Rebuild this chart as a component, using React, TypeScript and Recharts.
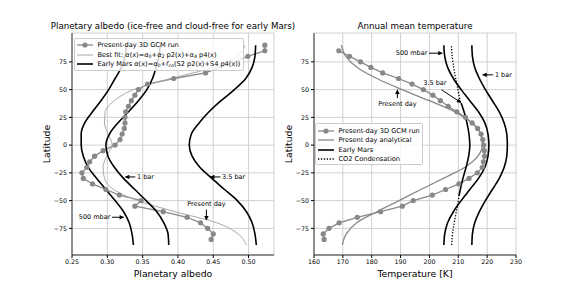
import React from 'react';
import { ComposedChart, Line, XAxis, YAxis, CartesianGrid, ReferenceLine, ReferenceDot } from 'recharts';

const FONT = '"DejaVu Sans", Verdana, sans-serif';

// ---------- ticks ----------
const latTicks = [-75, -50, -25, 0, 25, 50, 75];
const albedoTicks = [0.25, 0.3, 0.35, 0.4, 0.45, 0.5];
const tempTicks = [160, 170, 180, 190, 200, 210, 220, 230];

// ---------- left panel: planetary albedo ----------
const gcmAlbedoLat = [90, 85, 80, 65, 60, 55, 50, 45, 40, 35, 30, 25, 20, 15, 10, 5, 0, -5, -10, -15, -20, -25, -30, -35, -40, -45, -50, -55, -60, -65, -70, -75, -80, -85];
const gcmAlbedo = [0.523, 0.523, 0.499, 0.439, 0.394, 0.357, 0.344, 0.339, 0.334, 0.330, 0.326, 0.325, 0.325, 0.324, 0.321, 0.318, 0.311, 0.294, 0.282, 0.275, 0.271, 0.264, 0.266, 0.279, 0.298, 0.317, 0.348, 0.339, 0.379, 0.413, 0.432, 0.442, 0.450, 0.447];

const curveLat = [-90, -80, -70, -60, -50, -40, -30, -20, -10, 0, 10, 20, 30, 40, 50, 60, 70, 80, 90];
const bestFitAlbedo = [0.497, 0.485, 0.455, 0.396, 0.343, 0.309, 0.296, 0.294, 0.299, 0.307, 0.301, 0.296, 0.297, 0.310, 0.337, 0.390, 0.450, 0.484, 0.495];
const earlyAlbedo500mbar = [0.337, 0.335, 0.331, 0.323, 0.311, 0.298, 0.285, 0.273, 0.266, 0.263, 0.263, 0.268, 0.279, 0.291, 0.302, 0.311, 0.320, 0.325, 0.327];
const earlyAlbedo1bar = [0.387, 0.386, 0.380, 0.370, 0.355, 0.339, 0.323, 0.310, 0.301, 0.298, 0.303, 0.315, 0.330, 0.344, 0.356, 0.364, 0.369, 0.373, 0.375];
const earlyAlbedo3p5bar = [0.511, 0.509, 0.505, 0.497, 0.484, 0.466, 0.448, 0.431, 0.420, 0.416, 0.419, 0.430, 0.444, 0.461, 0.480, 0.496, 0.505, 0.509, 0.510];

// ---------- right panel: annual mean temperature ----------
const gcmTempLat = [85, 80, 75, 70, 65, 60, 55, 50, 45, 40, 35, 30, 25, 20, 15, 10, 5, 0, -5, -10, -15, -20, -25, -30, -35, -40, -45, -50, -55, -60, -65, -70, -75, -80, -85];
const gcmTemp = [168.6, 172.3, 176.1, 179.7, 183.8, 189.3, 194.0, 197.9, 201.2, 203.8, 206.5, 209.5, 212.5, 214.8, 216.7, 217.9, 218.5, 218.8, 219.0, 219.1, 218.7, 218.3, 216.6, 213.7, 210.2, 205.6, 201.0, 194.4, 190.6, 183.1, 175.0, 168.7, 165.2, 163.2, 163.5];
const analyticalTemp = [169.8, 171.2, 174.8, 181.8, 189.5, 197.0, 204.8, 212.3, 216.8, 218.3, 217.8, 214.8, 208.8, 200.0, 190.5, 181.8, 175.0, 171.0, 169.5];
const earlyTemp500mbar = [205.0, 205.3, 206.3, 208.3, 211.0, 214.0, 217.0, 219.2, 220.3, 220.6, 220.3, 219.2, 217.0, 214.0, 211.0, 208.3, 206.3, 205.3, 205.0];
const earlyTemp1bar = [214.7, 214.9, 215.7, 217.3, 219.4, 221.8, 224.2, 225.9, 226.8, 227.0, 226.8, 225.9, 224.2, 221.8, 219.4, 217.3, 215.7, 214.9, 214.7];
const early3p5Lat = [-46, -40, -30, -20, -10, 0, 10, 20, 30, 38];
const earlyTemp3p5bar = [210.2, 210.7, 211.6, 212.7, 213.6, 214.0, 213.7, 213.0, 212.0, 211.0];
const co2SouthLat = [-90, -80, -70, -60, -50, -47];
const co2SouthTemp = [207.7, 208.0, 208.6, 209.3, 210.0, 210.2];
const co2NorthLat = [39, 50, 60, 70, 80, 90];
const co2NorthTemp = [210.7, 209.9, 209.1, 208.4, 207.9, 207.6];

// ---------- annotations (data coordinates) ----------
const albedoNotes = [
  { text: '1 bar', x: 0.342, lat: -28.7, anchor: 'start' },
  { text: '3.5 bar', x: 0.4625, lat: -28.7, anchor: 'start' },
  { text: '500 mbar', x: 0.3043, lat: -65, anchor: 'end' },
  { text: 'Present day', x: 0.4403, lat: -52.9, anchor: 'middle' },
];
const albedoArrows = [
  { x1: 0.3397, y1: -28.7, x2: 0.3255, y2: -28.7 },
  { x1: 0.4601, y1: -28.7, x2: 0.4459, y2: -28.7 },
  { x1: 0.3067, y1: -65, x2: 0.3232, y2: -65 },
  { x1: 0.4403, y1: -58.1, x2: 0.4403, y2: -67.5 },
];
const tempNotes = [
  { text: '500 mbar', x: 199.3, lat: 82.8, anchor: 'end' },
  { text: '1 bar', x: 222.7, lat: 63.3, anchor: 'start' },
  { text: '3.5 bar', x: 201.9, lat: 56, anchor: 'middle' },
  { text: 'Present day', x: 188.9, lat: 37.3, anchor: 'middle' },
];
const tempArrows = [
  { x1: 199.85, y1: 82.8, x2: 204.45, y2: 82.8 },
  { x1: 222.1, y1: 63.3, x2: 218.45, y2: 63.3 },
  { x1: 204.2, y1: 49.8, x2: 210.9, y2: 38.4 },
  { x1: 188.9, y1: 42.3, x2: 188.9, y2: 49.8 },
];

const rows = (lats: number[], vals: number[], key: string) => lats.map((lat, i) => ({ lat, [key]: vals[i] }));

const fmtLat = (v: number) => (v < 0 ? `\u2212${Math.abs(v)}` : `${v}`);

const GRAY = '#888888';
const LIGHT = '#a9a9a9';
const tickStyle = { fontSize: 6.3, fill: '#000', fontFamily: FONT };

function noteShape(n: { text: string; anchor: string }) {
  return (p: any) => (
    <text x={p.cx} y={p.cy} textAnchor={n.anchor as any} dominantBaseline="central" fontSize={6.5} fill="#000" fontFamily={FONT}>
      {n.text}
    </text>
  );
}

function frameAxes() {
  return [
    <XAxis key="tx" xAxisId="top" orientation="top" type="number" domain={[0, 1]} height={0} tick={false} tickLine={false} axisLine={{ stroke: '#222', strokeWidth: 0.9 }} />,
    <YAxis key="ry" yAxisId="right" orientation="right" type="number" domain={[0, 1]} width={0} tick={false} tickLine={false} axisLine={{ stroke: '#222', strokeWidth: 0.9 }} />,
  ];
}

function AlbedoChart() {
  return (
    <ComposedChart width={574} height={287} layout="vertical" margin={{ top: 33, right: 300, bottom: 0, left: 0 }}>
      <defs>
        <marker id="ahA" viewBox="0 0 10 10" refX="9" refY="5" markerWidth="5" markerHeight="4.5" markerUnits="userSpaceOnUse" orient="auto">
          <path d="M0,0 L10,5 L0,10 z" fill="#000" />
        </marker>
      </defs>
      <CartesianGrid stroke="#d0d0d0" strokeWidth={1} />
      <XAxis type="number" domain={[0.25, 0.536]} ticks={albedoTicks} allowDataOverflow interval={0} tickFormatter={(v: number) => v.toFixed(2)} height={32} tick={tickStyle} tickLine={{ stroke: '#000' }} axisLine={{ stroke: '#222', strokeWidth: 0.9 }} tickSize={3} tickMargin={2} />
      <YAxis type="number" dataKey="lat" reversed domain={[-99, 101]} ticks={latTicks} allowDataOverflow interval={0} tickFormatter={fmtLat} width={72} tick={tickStyle} tickLine={{ stroke: '#000' }} axisLine={{ stroke: '#222', strokeWidth: 0.9 }} tickSize={3} tickMargin={2} />
      {frameAxes()}
      <Line data={rows(gcmAlbedoLat, gcmAlbedo, 'a')} dataKey="a" type="linear" stroke={GRAY} strokeWidth={1.3} dot={{ r: 2.6, fill: GRAY, stroke: GRAY, strokeWidth: 0 }} activeDot={false} isAnimationActive={false} />
      <Line data={rows(curveLat, bestFitAlbedo, 'a')} dataKey="a" type="monotone" stroke={LIGHT} strokeWidth={1} dot={false} activeDot={false} isAnimationActive={false} />
      <Line data={rows(curveLat, earlyAlbedo500mbar, 'a')} dataKey="a" type="monotone" stroke="#000" strokeWidth={1.6} dot={false} activeDot={false} isAnimationActive={false} />
      <Line data={rows(curveLat, earlyAlbedo1bar, 'a')} dataKey="a" type="monotone" stroke="#000" strokeWidth={1.6} dot={false} activeDot={false} isAnimationActive={false} />
      <Line data={rows(curveLat, earlyAlbedo3p5bar, 'a')} dataKey="a" type="monotone" stroke="#000" strokeWidth={1.6} dot={false} activeDot={false} isAnimationActive={false} />
      {albedoArrows.map((ar, i) => (
        <ReferenceLine key={`aa${i}`} segment={[{ x: ar.x1, y: ar.y1 }, { x: ar.x2, y: ar.y2 }]} stroke="#000" strokeWidth={1} markerEnd="url(#ahA)" ifOverflow="visible" />
      ))}
      {albedoNotes.map((n, i) => (
        <ReferenceDot key={`an${i}`} x={n.x} y={n.lat} r={1} ifOverflow="visible" shape={noteShape(n)} />
      ))}
    </ComposedChart>
  );
}

function TempChart() {
  return (
    <ComposedChart width={574} height={287} layout="vertical" margin={{ top: 33, right: 58, bottom: 0, left: 0 }}>
      <defs>
        <marker id="ahT" viewBox="0 0 10 10" refX="9" refY="5" markerWidth="5" markerHeight="4.5" markerUnits="userSpaceOnUse" orient="auto">
          <path d="M0,0 L10,5 L0,10 z" fill="#000" />
        </marker>
      </defs>
      <CartesianGrid stroke="#d0d0d0" strokeWidth={1} />
      <XAxis type="number" domain={[160, 230]} ticks={tempTicks} allowDataOverflow interval={0} height={32} tick={tickStyle} tickLine={{ stroke: '#000' }} axisLine={{ stroke: '#222', strokeWidth: 0.9 }} tickSize={3} tickMargin={2} />
      <YAxis type="number" dataKey="lat" reversed domain={[-99, 101]} ticks={latTicks} allowDataOverflow interval={0} tickFormatter={fmtLat} width={314} tick={tickStyle} tickLine={{ stroke: '#000' }} axisLine={{ stroke: '#222', strokeWidth: 0.9 }} tickSize={3} tickMargin={2} />
      {frameAxes()}
      <Line data={rows(gcmTempLat, gcmTemp, 't')} dataKey="t" type="linear" stroke={GRAY} strokeWidth={1.3} dot={{ r: 2.6, fill: GRAY, stroke: GRAY, strokeWidth: 0 }} activeDot={false} isAnimationActive={false} />
      <Line data={rows(curveLat, analyticalTemp, 't')} dataKey="t" type="monotone" stroke={GRAY} strokeWidth={1.3} dot={false} activeDot={false} isAnimationActive={false} />
      <Line data={rows(curveLat, earlyTemp500mbar, 't')} dataKey="t" type="monotone" stroke="#000" strokeWidth={1.6} dot={false} activeDot={false} isAnimationActive={false} />
      <Line data={rows(curveLat, earlyTemp1bar, 't')} dataKey="t" type="monotone" stroke="#000" strokeWidth={1.6} dot={false} activeDot={false} isAnimationActive={false} />
      <Line data={rows(early3p5Lat, earlyTemp3p5bar, 't')} dataKey="t" type="monotone" stroke="#000" strokeWidth={1.6} dot={false} activeDot={false} isAnimationActive={false} />
      <Line data={rows(co2SouthLat, co2SouthTemp, 't')} dataKey="t" type="monotone" stroke="#000" strokeWidth={1.3} strokeDasharray="1.3 1.6" dot={false} activeDot={false} isAnimationActive={false} />
      <Line data={rows(co2NorthLat, co2NorthTemp, 't')} dataKey="t" type="monotone" stroke="#000" strokeWidth={1.3} strokeDasharray="1.3 1.6" dot={false} activeDot={false} isAnimationActive={false} />
      {tempArrows.map((ar, i) => (
        <ReferenceLine key={`ta${i}`} segment={[{ x: ar.x1, y: ar.y1 }, { x: ar.x2, y: ar.y2 }]} stroke="#000" strokeWidth={1} markerEnd="url(#ahT)" ifOverflow="visible" />
      ))}
      {tempNotes.map((n, i) => (
        <ReferenceDot key={`tn${i}`} x={n.x} y={n.lat} r={1} ifOverflow="visible" shape={noteShape(n)} />
      ))}
    </ComposedChart>
  );
}

type Sample = 'gcm' | 'fit' | 'early' | 'dotted' | 'analytical';

function SampleLine({ kind }: { kind: Sample }) {
  const common = { x1: 0, x2: 16, y1: 4, y2: 4 };
  return (
    <svg width={16} height={8} style={{ display: 'block' }}>
      {kind === 'gcm' && (
        <>
          <line {...common} stroke={GRAY} strokeWidth={1.3} />
          <circle cx={8} cy={4} r={2.6} fill={GRAY} />
        </>
      )}
      {kind === 'fit' && <line {...common} stroke={LIGHT} strokeWidth={1} />}
      {kind === 'analytical' && <line {...common} stroke={GRAY} strokeWidth={1.3} />}
      {kind === 'early' && <line {...common} stroke="#000" strokeWidth={1.6} />}
      {kind === 'dotted' && <line {...common} stroke="#000" strokeWidth={1.3} strokeDasharray="1.3 1.6" />}
    </svg>
  );
}

const subStyle: React.CSSProperties = { fontSize: '0.72em', verticalAlign: '-0.25em', lineHeight: '1' };

function LegendBox({ left, top, width, height, items }: { left: number; top: number; width: number; height: number; items: { cy: number; kind: Sample; label: React.ReactNode }[] }) {
  return (
    <div style={{ position: 'absolute', left, top, width, height, boxSizing: 'border-box', border: '1px solid #cccccc', borderRadius: 2, background: 'rgba(255,255,255,0.8)' }}>
      {items.map((it, i) => (
        <div key={i} style={{ position: 'absolute', left: 2, top: it.cy - 5, height: 10, display: 'flex', alignItems: 'center', whiteSpace: 'nowrap', fontSize: 6.6, lineHeight: '10px', color: '#000' }}>
          <SampleLine kind={it.kind} />
          <span style={{ marginLeft: 4.5 }}>{it.label}</span>
        </div>
      ))}
    </div>
  );
}

const a = <i>α</i>;

export default function App() {
  return (
    <div style={{ position: 'absolute', left: 0, top: 0, width: 574, height: 287, background: '#fff', fontFamily: FONT, overflow: 'hidden' }}>
      <div style={{ position: 'absolute', left: 0, top: 0 }}>
        <AlbedoChart />
      </div>
      <div style={{ position: 'absolute', left: 0, top: 0 }}>
        <TempChart />
      </div>
      <svg width={574} height={287} style={{ position: 'absolute', left: 0, top: 0, pointerEvents: 'none' }} fontFamily={FONT}>
        <text x={173} y={29} textAnchor="middle" fontSize={8.7} fill="#000">Planetary albedo (ice-free and cloud-free for early Mars)</text>
        <text x={415} y={29} textAnchor="middle" fontSize={8.7} fill="#000">Annual mean temperature</text>
        <text x={173} y={276.5} textAnchor="middle" fontSize={9.3} fill="#000">Planetary albedo</text>
        <text x={415} y={276.5} textAnchor="middle" fontSize={9.3} fill="#000">Temperature [K]</text>
        <text x={0} y={0} transform="translate(49.5,144) rotate(-90)" textAnchor="middle" fontSize={9.3} fill="#000">Latitude</text>
        <text x={0} y={0} transform="translate(292,144) rotate(-90)" textAnchor="middle" fontSize={9.3} fill="#000">Latitude</text>
      </svg>
      <LegendBox
        left={74}
        top={38}
        width={170}
        height={33}
        items={[
          { cy: 6, kind: 'gcm', label: 'Present-day 3D GCM run' },
          { cy: 15.5, kind: 'fit', label: <>Best fit: {a}(x)={a}<sub style={subStyle}>0</sub>+{a}<sub style={subStyle}>2</sub> p2(x)+{a}<sub style={subStyle}>4</sub> p4(x)</> },
          { cy: 25.3, kind: 'early', label: <>Early Mars {a}(x)={a}<sub style={subStyle}>0</sub>+<i>f</i><sub style={subStyle}><i>co</i></sub>(S2 p2(x)+S4 p4(x))</> },
        ]}
      />
      <LegendBox
        left={315}
        top={123}
        width={108}
        height={42}
        items={[
          { cy: 7, kind: 'gcm', label: 'Present-day 3D GCM run' },
          { cy: 16.3, kind: 'analytical', label: 'Present day analytical' },
          { cy: 26, kind: 'early', label: 'Early Mars' },
          { cy: 35.3, kind: 'dotted', label: 'CO2 Condensation' },
        ]}
      />
    </div>
  );
}
